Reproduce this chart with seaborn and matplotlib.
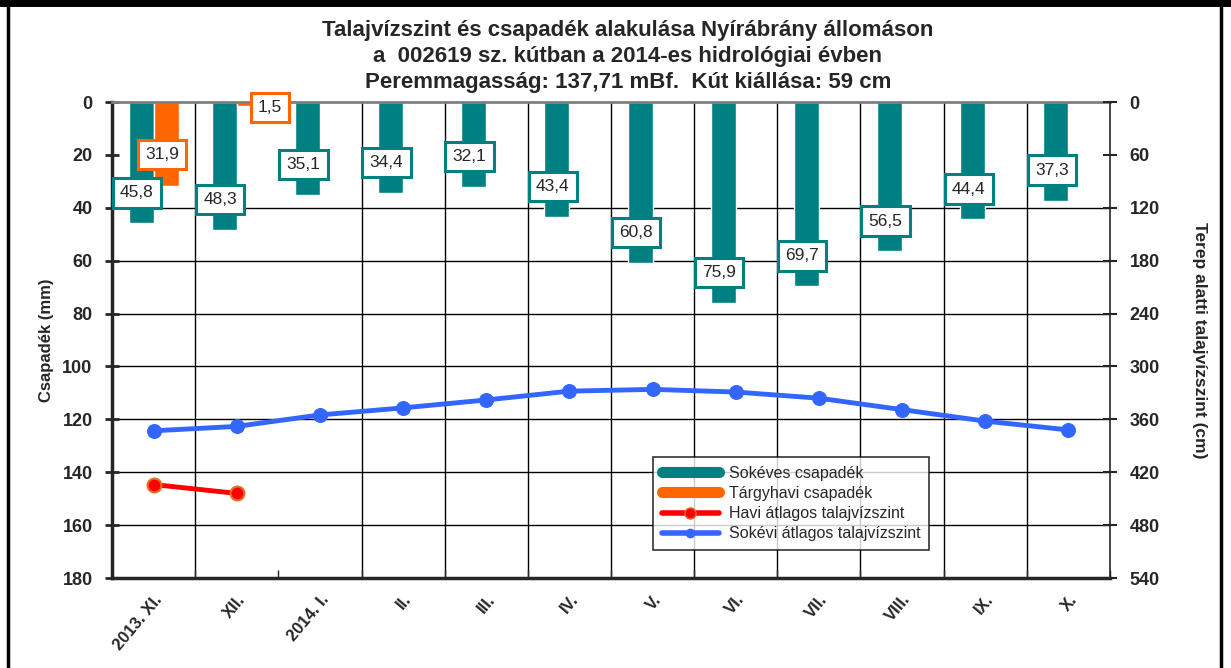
import numpy as np
import pandas as pd
import matplotlib
matplotlib.use('Agg')
import matplotlib.pyplot as plt
from matplotlib.lines import Line2D
from matplotlib.patches import Rectangle
import seaborn as sns

# adatok
months = ['2013. XI.', 'XII.', '2014. I.', 'II.', 'III.', 'IV.', 'V.', 'VI.', 'VII.', 'VIII.', 'IX.', 'X.']
sokeves_csap = [45.8, 48.3, 35.1, 34.4, 32.1, 43.4, 60.8, 75.9, 69.7, 56.5, 44.4, 37.3]
targyhavi_csap = [31.9, 1.5, np.nan, np.nan, np.nan, np.nan, np.nan, np.nan, np.nan, np.nan, np.nan, np.nan]
havi_talajviz = [434, 444, np.nan, np.nan, np.nan, np.nan, np.nan, np.nan, np.nan, np.nan, np.nan, np.nan]
sokevi_talajviz = [373, 368, 355, 347, 338, 328, 326, 329, 336, 349, 362, 372]

teal = '#008080'
orange = '#FF6600'
red = '#FF0000'
blue = '#3366FF'

sns.set_style('white')
plt.rcParams['font.family'] = ['Liberation Sans', 'DejaVu Sans']

df = pd.DataFrame({
    'Hónap': months * 2,
    'Csapadék': sokeves_csap + targyhavi_csap,
    'Sor': ['Sokéves csapadék'] * 12 + ['Tárgyhavi csapadék'] * 12,
})

fig = plt.figure(figsize=[12.31, 6.68], dpi=100)
ax = fig.add_axes([0.091, 0.1347, 0.8107, 0.7126])

sns.barplot(data=df, x='Hónap', y='Csapadék', hue='Sor', order=months,
            palette=[teal, orange], width=0.6, dodge=True, saturation=1,
            legend=False, ax=ax)
ax.set_xlim(-0.5, 11.5)
ax.set_ylim(180, 0)
ax.set_yticks(np.arange(0, 181, 20))
ax.set_ylabel('Csapadék (mm)', fontsize=12, fontweight='bold', labelpad=6)
ax.set_xlabel('')

# vízszintes rács
for v in range(40, 161, 20):
    ax.axhline(v, color='black', lw=1, zorder=0)
# függőleges rács a hónapok között
for i in range(11):
    if i == 1:
        continue
    ax.axvline(i + 0.5, color='black', lw=1, zorder=0)

ax.set_xticks(np.arange(12))
ax.set_xticklabels(months, rotation=50, ha='right', rotation_mode='anchor',
                   fontsize=12, fontweight='bold')
ax.tick_params(axis='x', length=0, pad=10)
ax.tick_params(axis='y', labelsize=13, length=10, width=2, direction='inout', left=True, pad=9)
for lbl in ax.get_yticklabels():
    lbl.set_fontweight('bold')
ax.set_xticks(np.arange(12) + 0.5, minor=True)
ax.tick_params(axis='x', which='minor', length=6, width=1, direction='in', bottom=True)

ax.spines['left'].set_linewidth(2.5)
ax.spines['bottom'].set_linewidth(2.5)
ax.spines['top'].set_color('#808080')
ax.spines['top'].set_linewidth(2)
ax.spines['right'].set_visible(False)

# adatcímkék
box_teal = dict(boxstyle='square,pad=0.42', fc='white', ec=teal, lw=2.2)
box_orange = dict(boxstyle='square,pad=0.42', fc='white', ec=orange, lw=2.2)
for i, v in enumerate(sokeves_csap):
    ax.text(i - 0.2, v - 11.5, f'{v:.1f}'.replace('.', ','), ha='center', va='center',
            fontsize=12.5, bbox=box_teal, zorder=5)
for i, v in enumerate(targyhavi_csap):
    if np.isnan(v):
        continue
    if v < 5:
        ax.text(i + 0.4, v + 0.5, f'{v:.1f}'.replace('.', ','), ha='center', va='center',
                fontsize=12.5, bbox=box_orange, zorder=5)
    else:
        ax.text(i + 0.1, v - 12, f'{v:.1f}'.replace('.', ','), ha='center', va='center',
                fontsize=12.5, bbox=box_orange, zorder=5)

# talajvízszint
ax2 = ax.twinx()
x = np.arange(12)
sns.lineplot(x=x, y=sokevi_talajviz, color=blue, lw=3.5, marker='o', markersize=10,
             markeredgecolor=blue, ax=ax2)
sns.lineplot(x=x, y=havi_talajviz, color=red, lw=3.5, marker='o', markersize=10,
             markeredgecolor='#E87020', markeredgewidth=1.5, ax=ax2)
ax2.set_ylim(540, 0)
ax2.set_yticks(np.arange(0, 541, 60))
ax2.tick_params(axis='y', labelsize=13, length=10, width=1.5, direction='inout', right=True, pad=9)
for lbl in ax2.get_yticklabels():
    lbl.set_fontweight('bold')
ax2.set_ylabel('Terep alatti talajvízszint (cm)', fontsize=12.5, fontweight='bold',
               rotation=270, labelpad=34)
for s in ['left', 'top', 'bottom']:
    ax2.spines[s].set_visible(False)
ax2.spines['right'].set_linewidth(1.2)
ax2.set_xlim(-0.5, 11.5)

handles = [
    Line2D([0], [0], color=teal, lw=8),
    Line2D([0], [0], color=orange, lw=8),
    Line2D([0], [0], color=red, lw=4, marker='o', markersize=8, markeredgecolor='#E87020'),
    Line2D([0], [0], color=blue, lw=4, marker='o', markersize=6),
]
labels = ['Sokéves csapadék', 'Tárgyhavi csapadék', 'Havi átlagos talajvízszint',
          'Sokévi átlagos talajvízszint']
leg = ax2.legend(handles, labels, loc='upper left', bbox_to_anchor=(0.542, 0.254),
                 fontsize=11.5, frameon=True, fancybox=False, edgecolor='black',
                 handlelength=3.6, handletextpad=0.6, borderpad=0.55, labelspacing=0.32,
                 borderaxespad=0)
leg.get_frame().set_linewidth(1.2)
for t in leg.get_texts():
    t.set_x(0)

fig.text(0.51, 0.954, 'Talajvízszint és csapadék alakulása Nyírábrány állomáson',
         ha='center', va='center', fontsize=16, fontweight='bold')
fig.text(0.51, 0.916, 'a  002619 sz. kútban a 2014-es hidrológiai évben',
         ha='center', va='center', fontsize=16, fontweight='bold')
fig.text(0.51, 0.877, 'Peremmagasság: 137,71 mBf.  Kút kiállása: 59 cm',
         ha='center', va='center', fontsize=16, fontweight='bold')

# keret
fig.patches.append(Rectangle((0.0065, -0.01), 0.9855, 1.005, transform=fig.transFigure,
                             fill=False, ec='black', lw=2.5))
fig.add_artist(Line2D([0, 1], [0.996, 0.996], transform=fig.transFigure, color='black', lw=5))

fig.savefig('out.png', dpi=100)
